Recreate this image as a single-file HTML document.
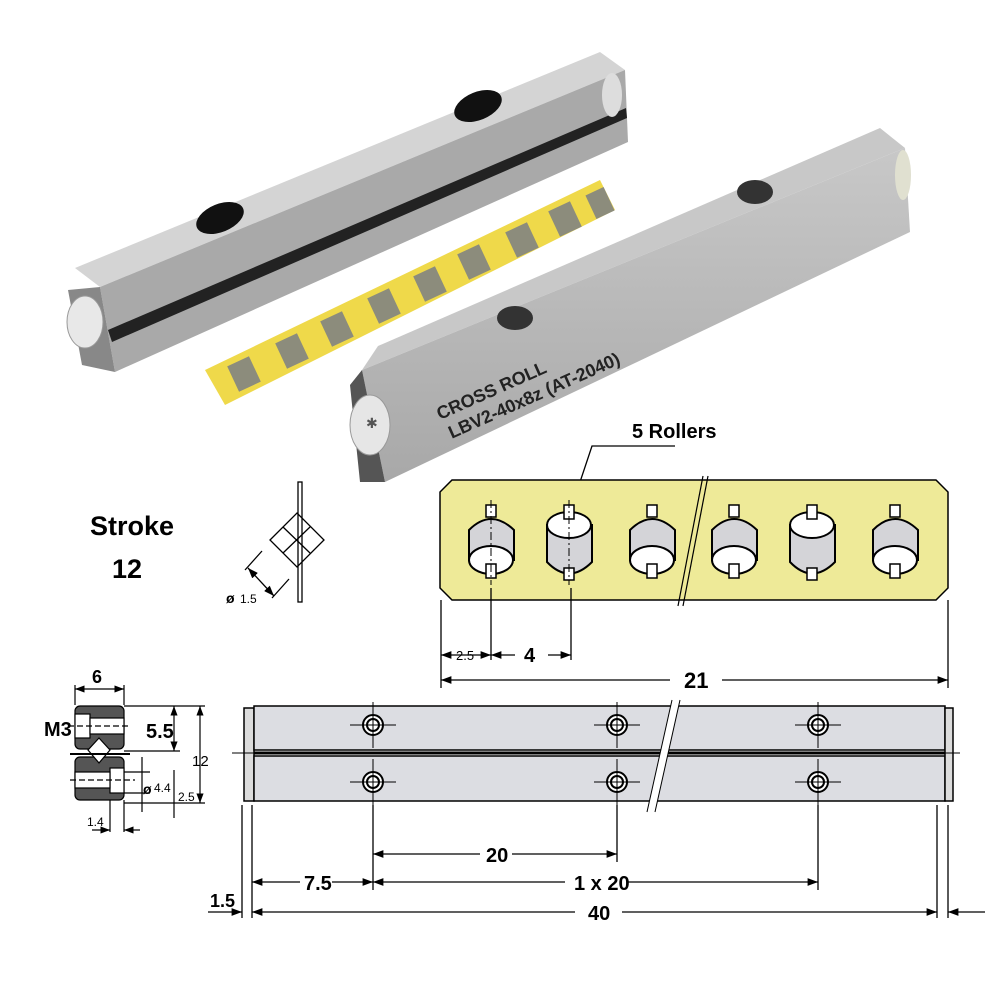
<!DOCTYPE html>
<html><head><meta charset="utf-8"><style>
html,body{margin:0;padding:0;background:#fff}
svg{display:block}
text{font-family:"Liberation Sans Narrow","Liberation Sans",sans-serif;}
</style></head><body>
<svg width="1000" height="1000" viewBox="0 0 1000 1000" xmlns="http://www.w3.org/2000/svg">
<defs>
<linearGradient id="g2" x1="0" y1="0" x2="0" y2="1"><stop offset="0" stop-color="#c8c8c8"/><stop offset="1" stop-color="#a8a8a8"/></linearGradient>
<marker id="a" markerWidth="8" markerHeight="6" refX="8" refY="3" orient="auto-start-reverse"><path d="M0,0 L8,3 L0,6z" fill="#000"/></marker>
</defs>
<!-- Rail 1 photo -->
<polygon points="75,268 600,52 625,70 100,287" fill="#d4d4d4"/>
<polygon points="100,287 625,70 628,142 115,372" fill="#a9a9a9"/>
<polygon points="108,330 626,108 627,118 112,342" fill="#222"/>
<ellipse cx="220" cy="218" rx="25" ry="14" transform="rotate(-22 220 218)" fill="#111"/>
<ellipse cx="478" cy="106" rx="25" ry="14" transform="rotate(-22 478 106)" fill="#111"/>
<polygon points="68,290 100,287 115,372 82,365" fill="#888"/>
<ellipse cx="85" cy="322" rx="18" ry="26" fill="#e8e8e8" stroke="#999"/>
<ellipse cx="612" cy="95" rx="10" ry="22" fill="#ddd"/>
<!-- Cage -->
<polygon points="205,370 600,180 615,210 225,405" fill="#efd94a"/>
<g fill="#8c8c7c">
<rect x="232" y="360" width="24" height="28" transform="rotate(-25 244 374)"/>
<rect x="280" y="337" width="24" height="28" transform="rotate(-25 292 351)"/>
<rect x="325" y="315" width="24" height="28" transform="rotate(-25 337 329)"/>
<rect x="372" y="292" width="24" height="28" transform="rotate(-25 384 306)"/>
<rect x="418" y="270" width="24" height="28" transform="rotate(-25 430 284)"/>
<rect x="462" y="248" width="24" height="28" transform="rotate(-25 474 262)"/>
<rect x="510" y="226" width="24" height="28" transform="rotate(-25 522 240)"/>
<rect x="553" y="205" width="24" height="28" transform="rotate(-25 565 219)"/>
<rect x="590" y="190" width="20" height="26" transform="rotate(-25 600 203)"/>
</g>
<!-- Rail 2 photo -->
<polygon points="362,370 378,346 880,128 905,148" fill="#c8c8c8"/>
<polygon points="362,370 905,148 910,232 385,482" fill="url(#g2)"/>
<polygon points="350,385 362,370 385,482 360,482" fill="#555"/>
<ellipse cx="370" cy="425" rx="20" ry="30" fill="#e6e6e6" stroke="#999"/>
<text x="366" y="428" font-size="14" fill="#555">✱</text>
<ellipse cx="903" cy="175" rx="8" ry="25" fill="#e0e0d0"/>
<ellipse cx="515" cy="318" rx="18" ry="12" fill="#333"/>
<ellipse cx="755" cy="192" rx="18" ry="12" fill="#333"/>
<g transform="rotate(-24 440 420)" font-size="18" fill="#222" font-weight="bold">
<text x="440" y="420">CROSS ROLL</text>
<text x="443" y="442">LBV2-40x8z (AT-2040)</text>
</g>
<!-- 5 Rollers label -->
<text x="632" y="438" font-size="20" font-weight="bold" fill="#000">5 Rollers</text>
<polyline points="675,446 592,446 570,512" fill="none" stroke="#000" stroke-width="1.3"/>
<!-- Yellow panel -->
<polygon points="452,480 936,480 948,492 948,588 936,600 452,600 440,588 440,492" fill="#eeea98" stroke="#000" stroke-width="1.5"/>
<g stroke="#000" stroke-width="2">
<g id="rA"><path d="M469,530 Q491,508 514,530 L514,560 L469,560Z" fill="#d4d4d8"/><ellipse cx="491" cy="560" rx="22" ry="14" fill="#fff"/><rect x="486" y="505" width="10" height="12" fill="#fff" stroke-width="1.5"/><rect x="486" y="564" width="10" height="14" fill="#fff" stroke-width="1.5"/></g>
<use href="#rA" x="161"/><use href="#rA" x="243"/><use href="#rA" x="404"/>
<g id="rB"><path d="M547,525 L547,562 Q569,585 592,562 L592,525Z" fill="#d4d4d8"/><ellipse cx="569" cy="525" rx="22" ry="13" fill="#fff"/><rect x="564" y="505" width="10" height="14" fill="#fff" stroke-width="1.5"/><rect x="564" y="568" width="10" height="12" fill="#fff" stroke-width="1.5"/></g>
<use href="#rB" x="243"/>
</g>
<g stroke="#000" stroke-width="1" stroke-dasharray="8,3,2,3">
<line x1="491" y1="500" x2="491" y2="585"/><line x1="569" y1="500" x2="569" y2="585"/>
</g>
<line x1="703" y1="476" x2="678" y2="606" stroke="#000" stroke-width="1.2"/><line x1="708" y1="476" x2="683" y2="606" stroke="#000" stroke-width="1.2"/>
<!-- panel dims -->
<g stroke="#000" stroke-width="1.3" fill="none">
<line x1="441" y1="600" x2="441" y2="688"/><line x1="491" y1="588" x2="491" y2="660"/><line x1="571" y1="588" x2="571" y2="660"/><line x1="948" y1="600" x2="948" y2="688"/>
<line x1="441" y1="655" x2="491" y2="655" marker-end="url(#a)" marker-start="url(#a)"/>
<line x1="491" y1="655" x2="515" y2="655" marker-start="url(#a)"/><line x1="548" y1="655" x2="571" y2="655" marker-end="url(#a)"/>
<line x1="441" y1="680" x2="670" y2="680" marker-start="url(#a)"/><line x1="722" y1="680" x2="948" y2="680" marker-end="url(#a)"/>
</g>
<text x="456" y="660" font-size="13" fill="#000">2.5</text>
<text x="524" y="662" font-size="20" font-weight="bold">4</text>
<text x="684" y="688" font-size="22" font-weight="bold">21</text>
<!-- Stroke -->
<text x="90" y="535" font-size="27" font-weight="bold">Stroke</text>
<text x="112" y="578" font-size="27" font-weight="bold">12</text>
<!-- diamond -->
<g stroke="#000" stroke-width="1.3" fill="none">
<rect x="298" y="482" width="4" height="120" fill="#fff"/>
<path d="M270,540 L297,513 L324,540 L297,567Z M283,527 L310,553 M283,553 L310,527"/>
<line x1="245" y1="570" x2="262" y2="551"/><line x1="272" y1="598" x2="289" y2="579"/>
<line x1="248" y1="568" x2="274" y2="596" marker-start="url(#a)" marker-end="url(#a)"/>
</g>
<text x="226" y="603" font-size="14" font-weight="bold">ø</text><text x="240" y="603" font-size="12">1.5</text>
<!-- Section view -->
<g stroke="#000" stroke-width="1.2">
<rect x="75" y="706" width="49" height="43" rx="5" fill="#555"/>
<rect x="75" y="757" width="49" height="43" rx="5" fill="#555"/>
<rect x="75" y="714" width="15" height="24" fill="#fff"/><rect x="90" y="718" width="34" height="16" fill="#fff"/>
<rect x="110" y="768" width="14" height="25" fill="#fff"/><rect x="75" y="772" width="35" height="16" fill="#fff"/>
<path d="M99,738 L110,750 L99,763 L88,750Z" fill="#fff"/>
<line x1="70" y1="754" x2="130" y2="754" stroke-width="2"/>
</g>
<g stroke="#000" stroke-width="1.2" fill="none">
<line x1="75" y1="685" x2="75" y2="705"/><line x1="124" y1="685" x2="124" y2="705"/>
<line x1="75" y1="689" x2="124" y2="689" marker-start="url(#a)" marker-end="url(#a)"/>
<line x1="124" y1="706" x2="205" y2="706"/><line x1="124" y1="751" x2="180" y2="751"/><line x1="124" y1="803" x2="205" y2="803"/>
<line x1="174" y1="706" x2="174" y2="751" marker-start="url(#a)" marker-end="url(#a)"/>
<line x1="200" y1="706" x2="200" y2="803" marker-start="url(#a)" marker-end="url(#a)"/>
<line x1="124" y1="772" x2="150" y2="772"/><line x1="124" y1="793" x2="150" y2="793"/>
<line x1="142" y1="757" x2="142" y2="812"/><line x1="174" y1="770" x2="174" y2="818"/>
<line x1="110" y1="800" x2="110" y2="832"/><line x1="124" y1="800" x2="124" y2="832"/>
<line x1="92" y1="830" x2="110" y2="830" marker-end="url(#a)"/><line x1="124" y1="830" x2="140" y2="830" marker-start="url(#a)"/>
<line x1="68" y1="726" x2="128" y2="726" stroke-dasharray="6,3"/><line x1="70" y1="780" x2="135" y2="780" stroke-dasharray="6,3"/>
</g>
<text x="92" y="683" font-size="18" font-weight="bold">6</text>
<text x="44" y="736" font-size="20" font-weight="bold">M3</text>
<text x="146" y="738" font-size="20" font-weight="bold">5.5</text>
<text x="192" y="766" font-size="15">12</text>
<text x="143" y="794" font-size="14" font-weight="bold">ø</text><text x="154" y="792" font-size="12">4.4</text>
<text x="178" y="801" font-size="12">2.5</text>
<text x="87" y="826" font-size="12">1.4</text>
<!-- Side rail view -->
<g stroke="#000" stroke-width="1.5">
<rect x="244" y="708" width="10" height="93" fill="#dcdcdc"/>
<rect x="254" y="706" width="691" height="44" fill="#dcdde2"/>
<rect x="254" y="756" width="691" height="45" fill="#dcdde2"/>
<rect x="945" y="708" width="8" height="93" fill="#dcdcdc"/>
<line x1="254" y1="753" x2="945" y2="753" stroke-width="3"/>
<line x1="232" y1="753" x2="960" y2="753" stroke-width="1"/>
</g>
<polygon points="672,700 680,700 655,812 647,812" fill="#fff"/>
<line x1="672" y1="700" x2="647" y2="812" stroke="#000"/><line x1="680" y1="700" x2="655" y2="812" stroke="#000"/>
<g stroke="#000" fill="#fff">
<g id="h"><circle cx="373" cy="725" r="10" stroke-width="2"/><circle cx="373" cy="725" r="6" stroke-width="2"/><line x1="350" y1="725" x2="396" y2="725" stroke-width="1"/><line x1="373" y1="702" x2="373" y2="748" stroke-width="1"/></g>
<use href="#h" x="244"/><use href="#h" x="445"/>
<use href="#h" y="57"/><use href="#h" x="244" y="57"/><use href="#h" x="445" y="57"/>
</g>
<g stroke="#000" stroke-width="1.3" fill="none">
<line x1="373" y1="805" x2="373" y2="890"/><line x1="617" y1="805" x2="617" y2="862"/><line x1="818" y1="805" x2="818" y2="890"/>
<line x1="242" y1="805" x2="242" y2="918"/><line x1="252" y1="805" x2="252" y2="918"/>
<line x1="937" y1="805" x2="937" y2="918"/><line x1="948" y1="805" x2="948" y2="918"/>
<line x1="373" y1="854" x2="480" y2="854" marker-start="url(#a)"/><line x1="512" y1="854" x2="617" y2="854" marker-end="url(#a)"/>
<line x1="252" y1="882" x2="300" y2="882" marker-start="url(#a)"/><line x1="332" y1="882" x2="373" y2="882" marker-end="url(#a)"/>
<line x1="373" y1="882" x2="565" y2="882" marker-start="url(#a)"/><line x1="628" y1="882" x2="818" y2="882" marker-end="url(#a)"/>
<line x1="208" y1="912" x2="242" y2="912" marker-end="url(#a)"/>
<line x1="252" y1="912" x2="575" y2="912" marker-start="url(#a)"/><line x1="622" y1="912" x2="937" y2="912" marker-end="url(#a)"/>
<line x1="948" y1="912" x2="985" y2="912" marker-start="url(#a)"/>
</g>
<text x="486" y="862" font-size="20" font-weight="bold">20</text>
<text x="304" y="890" font-size="20" font-weight="bold">7.5</text>
<text x="574" y="890" font-size="20" font-weight="bold">1 x 20</text>
<text x="210" y="907" font-size="18" font-weight="bold">1.5</text>
<text x="588" y="920" font-size="20" font-weight="bold">40</text>
</svg>
</body></html>
